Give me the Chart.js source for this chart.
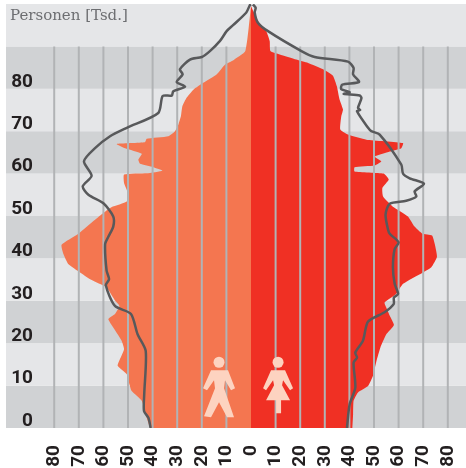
<!DOCTYPE html>
<html>
<head>
<meta charset="utf-8">
<style>
html, body { margin: 0; padding: 0; background: #fff; }
#wrap { width: 466px; height: 468px; }
</style>
<script src="https://cdn.jsdelivr.net/npm/chart.js@4"></script>
</head>
<body>
<div id="wrap"><canvas id="pyramid" width="466" height="468"></canvas></div>
<script>
// Values: age in years, persons in thousands
const xTicks = [-80, -70, -60, -50, -40, -30, -20, -10, 0, 10, 20, 30, 40, 50, 60, 70, 80];
const yTicks = [0, 10, 20, 30, 40, 50, 60, 70, 80];

const maleAges = [99.5, 88.9, 86.7, 85.7, 83.4, 81.4, 79.8, 77.9, 75.9, 73.5, 71.6, 70, 68.8, 68.2, 67.4, 67, 66, 64.7, 63.3, 62.3, 61.5, 60.7, 60.1, 59.8, 57.8, 55.8, 53.4, 52.1, 50.7, 49.1, 45.8, 43.2, 41.1, 38.7, 36.7, 35.1, 33.6, 33.2, 30, 28.8, 26.9, 25.7, 23.7, 20.6, 18.6, 16.2, 14.7, 12.7, 10.7, 8.7, 6.4, 2.4, 0];
const maleValues = [0, 2.3, 7.3, 10.6, 14, 19.4, 23.4, 26.2, 27.9, 28.5, 29.5, 30.9, 33.6, 42.4, 43.1, 54.6, 51.2, 44.4, 45.8, 45.1, 39.7, 36, 42.4, 51.6, 51.6, 50.3, 50.5, 56.6, 60, 63.4, 70.2, 77, 76.3, 74.3, 69.5, 65.4, 60, 58.7, 55.2, 53.5, 55.3, 58, 56, 52.6, 51.6, 53.3, 54.2, 50.5, 49.6, 48.5, 44.4, 42.4, 41];

const femaleAges = [99.5, 96, 93.6, 91.3, 88.9, 88.1, 86.9, 86.1, 84.6, 83.1, 80.6, 77.5, 75.1, 73.5, 70.4, 69.2, 68, 67.2, 66, 65.2, 64, 62.9, 61.9, 61.5, 60.5, 60, 58.6, 56.6, 54.6, 52.2, 49.9, 47.5, 45.9, 45.4, 43.4, 40.4, 37.9, 36.7, 34, 31.6, 29.6, 28.4, 26.5, 24.3, 22.1, 19, 15.8, 12.3, 9.9, 8.4, 6.4, 3.2, 0];
const femaleValues = [0, 2.8, 6.2, 7.6, 7.9, 11.7, 18.4, 23.2, 29.3, 33.3, 34.9, 36, 37.4, 36.7, 36.3, 39.4, 46.9, 61.8, 61.1, 56.4, 50.3, 53, 50.3, 42.1, 42.1, 53.9, 56, 53.4, 53.7, 57.7, 63.8, 66.5, 69.5, 73.6, 74.7, 75.6, 73.3, 69.9, 61.8, 59, 54.3, 55, 56.4, 58.1, 55, 52.6, 51, 49.6, 47.6, 43.5, 41.7, 41.5, 41.2];

const maleLineAges = [99.9, 99.7, 98, 95, 93.6, 91.3, 88.9, 87.5, 86.9, 84.6, 83.4, 81.6, 80.5, 79.4, 78.4, 78.3, 74.3, 70.8, 68.8, 66, 62.9, 59.5, 57, 55, 53, 49.9, 47.5, 45.1, 43.4, 37.1, 35.1, 33.6, 28.8, 26.9, 22.1, 18.2, 8, 4, 2.4, 0];
const maleLineValues = [0, 0.5, 1.9, 7.3, 9.9, 12.6, 16.7, 20, 24.8, 28.9, 27.8, 30.2, 26.8, 31.6, 32.2, 35.9, 37.7, 50.5, 57.3, 63.4, 67.9, 64.8, 68.4, 66.1, 60, 56, 56, 58, 59.3, 58.7, 57.7, 59, 55.3, 48.8, 46.1, 42.8, 43.4, 43.5, 41.7, 40.8];

const femaleLineAges = [99.9, 99.1, 98, 95.6, 93.6, 88.9, 87.5, 86.4, 84.9, 83.4, 81.6, 81, 79.9, 79.2, 78.8, 78.4, 77.8, 75.5, 75, 74.7, 70.8, 70, 69.2, 62.1, 60, 58.9, 57.6, 55.8, 54.6, 53.6, 52.9, 50.3, 46.8, 45.8, 43.8, 42.2, 37.9, 34, 31.6, 30.8, 29.2, 27.3, 25.1, 20.6, 17.8, 16.6, 15.4, 9.5, 5.6, 0];
const femaleLineValues = [0.8, 1.9, 1.5, 2.8, 6.9, 20.5, 25.9, 39.4, 41.7, 41.5, 43.9, 37.1, 36.7, 40.1, 37.7, 44.2, 44.9, 43.5, 44.4, 43.1, 47.6, 48.9, 52.3, 61.1, 61.8, 64.5, 70.3, 66.5, 67.2, 63.1, 56.4, 54.7, 55.7, 56.4, 60, 58.4, 57.7, 58.4, 59.8, 58.1, 58, 54.3, 47.6, 45.5, 42.4, 43.1, 41.7, 42.4, 40.1, 39];

const points = (ages, values, sign) => ages.map((a, i) => ({ x: sign * values[i], y: a }));

// Person shapes, in pixels around the figure's centre
const maleShape = [[-8,-9],[9,-9],[16,9],[12,11],[6,1],[5,9],[15,38],[8,38],[0,23],[-8,38],[-15,37],[-4,9],[-5,1],[-12,11],[-16,9]];
const femaleShape = [[-7,-9],[7,-9],[15,9],[12,11],[5,1],[4,6],[12,21],[3,21],[3,34],[-2,34],[-2,21],[-12,21],[-4,6],[-5,1],[-12,11],[-15,9]];

function drawPerson(ctx, cx, cy, shape) {
    ctx.fillStyle = '#fdd3c0';
    ctx.beginPath();
    ctx.arc(cx, cy - 17, 5.5, 0, Math.PI * 2);
    ctx.fill();
    ctx.beginPath();
    shape.forEach((p, i) => i ? ctx.lineTo(cx + p[0], cy + p[1]) : ctx.moveTo(cx + p[0], cy + p[1]));
    ctx.closePath();
    ctx.fill();
}

const decorations = {
    id: 'decorations',
    // Alternating age bands, plus the label in the top band
    beforeDraw(chart) {
        const { ctx, scales: { x, y } } = chart;
        ctx.save();
        for (let a = 0; a < 100; a += 10) {
            ctx.fillStyle = (a / 10) % 2 ? '#e5e6e8' : '#d0d2d4';
            ctx.fillRect(y.left, y.getPixelForValue(a + 10), x.right - y.left, y.getPixelForValue(a) - y.getPixelForValue(a + 10));
        }
        ctx.fillStyle = '#6d6e71';
        ctx.font = '15px "DejaVu Serif"';
        ctx.textBaseline = 'middle';
        ctx.fillText('Personen [Tsd.]', 10, 16);
        ctx.restore();
    },
    // Vertical rules go over the areas but under the outlines (index 1 draws first of those)
    beforeDatasetDraw(chart, args) {
        if (args.index !== 1) return;
        const { ctx, scales: { x, y } } = chart;
        ctx.save();
        ctx.strokeStyle = '#b1b3b5';
        ctx.lineWidth = 2;
        xTicks.filter(v => v !== 0).forEach(v => {
            ctx.beginPath();
            ctx.moveTo(x.getPixelForValue(v), y.getPixelForValue(90));
            ctx.lineTo(x.getPixelForValue(v), y.getPixelForValue(0));
            ctx.stroke();
        });
        ctx.restore();
    },
    afterDatasetsDraw(chart) {
        const { ctx, scales: { x, y } } = chart;
        ctx.save();
        drawPerson(ctx, x.getPixelForValue(-13), y.getPixelForValue(11.5), maleShape);
        drawPerson(ctx, x.getPixelForValue(11), y.getPixelForValue(11.5), femaleShape);
        ctx.restore();
    }
};

new Chart(document.getElementById('pyramid'), {
    type: 'line',
    plugins: [decorations],
    data: {
        datasets: [
            { label: 'Männer Linie', data: points(maleLineAges, maleLineValues, -1), borderColor: '#58595b', borderWidth: 2.5, tension: 0.25, pointRadius: 0, fill: false },
            { label: 'Frauen Linie', data: points(femaleLineAges, femaleLineValues, 1), borderColor: '#58595b', borderWidth: 2.5, tension: 0.25, pointRadius: 0, fill: false },
            { label: 'Männer', data: points(maleAges, maleValues, -1), backgroundColor: '#f47650', borderWidth: 0, tension: 0.15, pointRadius: 0, fill: { value: 0 } },
            { label: 'Frauen', data: points(femaleAges, femaleValues, 1), backgroundColor: '#f03024', borderWidth: 0, tension: 0.15, pointRadius: 0, fill: { value: 0 } }
        ]
    },
    options: {
        indexAxis: 'y',
        responsive: false,
        animation: false,
        layout: { padding: { left: 6, top: 4 } },
        plugins: { legend: { display: false }, tooltip: { enabled: false } },
        scales: {
            x: {
                type: 'linear',
                min: -87.4,
                max: 87.4,
                afterBuildTicks: s => { s.ticks = xTicks.map(v => ({ value: v })); },
                afterFit: s => { s.height = 40; s.paddingLeft = 0; s.paddingRight = 0; },
                grid: { display: false, drawTicks: false },
                border: { display: false },
                ticks: {
                    autoSkip: false,
                    minRotation: 90,
                    maxRotation: 90,
                    padding: 17,
                    color: '#231f20',
                    font: { family: 'Roboto', weight: 'bold', size: 19 },
                    callback: v => Math.abs(v)
                }
            },
            y: {
                type: 'linear',
                min: 0,
                max: 100,
                afterBuildTicks: s => { s.ticks = yTicks.map(v => ({ value: v })); },
                afterFit: s => { s.width = 30; s.paddingTop = 0; s.paddingBottom = 0; },
                grid: { display: false, drawTicks: false },
                border: { display: false },
                ticks: {
                    autoSkip: false,
                    padding: 3,
                    labelOffset: -7,
                    color: '#231f20',
                    font: { family: 'Roboto', weight: 'bold', size: 19 }
                }
            }
        }
    }
});
</script>
</body>
</html>
